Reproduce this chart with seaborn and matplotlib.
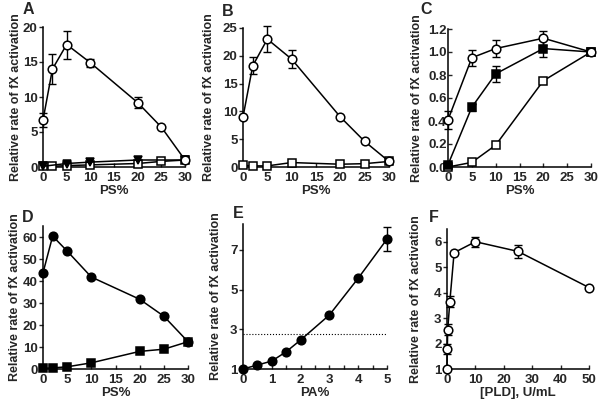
import matplotlib
matplotlib.use("Agg")
import matplotlib.pyplot as plt
import seaborn as sns

sns.set_theme(style="ticks")
plt.rcParams['font.family'] = ['Liberation Sans', 'DejaVu Sans']
plt.rcParams['font.weight'] = 'bold'
plt.rcParams['axes.labelweight'] = 'bold'

# panel A
ps_a = [0, 2, 5, 10, 20, 25, 30]
a_circle = [6.7, 14.0, 17.5, 14.9, 9.2, 5.7, 1.0]
a_circle_err = [1.0, 2.1, 2.0, 0.6, 0.8, 0.0, 0.0]
a_square = [0.1, 0.1, 0.2, 0.3, 0.5, 0.8, 1.0]
ps_a_tri = [0, 5, 10, 20, 30]
a_tri = [0.1, 0.5, 0.7, 1.0, 1.0]

# panel B
ps_b = [0, 2, 5, 10, 20, 25, 30]
b_circle = [9.0, 18.2, 23.0, 19.4, 9.0, 4.6, 1.0]
b_circle_err = [0.0, 1.5, 2.4, 1.6, 0.0, 0.0, 0.0]
b_square = [0.3, 0.2, 0.2, 0.8, 0.5, 0.6, 1.0]

# panel C
ps_c = [0, 5, 10, 20, 30]
c_circle = [0.41, 0.95, 1.03, 1.12, 1.0]
c_circle_err = [0.08, 0.07, 0.07, 0.06, 0.0]
c_fsquare = [0.02, 0.52, 0.81, 1.03, 1.0]
c_fsquare_err = [0.0, 0.03, 0.07, 0.07, 0.0]
c_square = [0.0, 0.04, 0.19, 0.75, 1.0]

# panel D
ps_d = [0, 2, 5, 10, 20, 25, 30]
d_circle = [43.7, 60.4, 53.6, 41.8, 31.7, 24.0, 12.4]
d_square = [0.3, 0.5, 1.0, 2.8, 8.0, 9.0, 12.4]

# panel E
pa_e = [0, 0.5, 1, 1.5, 2, 3, 4, 5]
e_circle = [1.0, 1.2, 1.4, 1.87, 2.46, 3.72, 5.57, 7.54]
e_circle_err = [0, 0, 0, 0, 0, 0, 0, 0.6]
e_threshold = 2.75

# panel F
pld_f = [0, 0.1, 0.25, 1, 2.5, 10, 25, 50]
f_circle = [1.0, 1.78, 2.55, 3.65, 5.57, 6.0, 5.62, 4.2]
f_circle_err = [0, 0.2, 0.2, 0.2, 0, 0.2, 0.25, 0]

ylabel = 'Relative rate of fX activation'
FS = 9.5


def series(ax, x, y, marker, filled, err=None):
    face = 'black' if filled else 'white'
    ms = 6.2 if marker == 'o' else 5.6
    if err is not None:
        ax.errorbar(x, y, yerr=err, fmt='none', ecolor='black', elinewidth=1.0,
                    capsize=2.8, capthick=1.0, zorder=2, clip_on=False)
    sns.lineplot(x=x, y=y, ax=ax, color='black', marker=marker, markersize=ms,
                 markerfacecolor=face, markeredgecolor='black', markeredgewidth=1.1,
                 linewidth=1.1, clip_on=False, zorder=3)


W, H = 602, 407
fig = plt.figure(figsize=(W / 100, H / 100), dpi=100)


def make_axes(left, right, top, bottom, label_x):
    ax = fig.add_axes([left / W, 1 - bottom / H, (right - left) / W, (bottom - top) / H])
    ax.set_ylabel(ylabel, fontsize=9)
    ax.yaxis.label.set_va('center')
    ax.yaxis.set_label_coords((label_x - left) / (right - left), 0.5)
    return ax


axA = make_axes(43, 185, 27, 167, 16)
axB = make_axes(243, 389, 28, 167, 209)
axC = make_axes(448, 591, 29, 167, 417)
axD = make_axes(43, 188, 226, 369, 15)
axE = make_axes(243, 387, 224, 369, 216)
axF = make_axes(447, 589, 229, 369, 416)

series(axA, ps_a, a_square, 's', False)
series(axA, ps_a_tri, a_tri, 'v', True)
series(axA, ps_a, a_circle, 'o', False, a_circle_err)
axA.set_ylim(0, 20)
axA.set_yticks([0, 5, 10, 15, 20])

series(axB, ps_b, b_square, 's', False)
series(axB, ps_b, b_circle, 'o', False, b_circle_err)
axB.set_ylim(0, 25)
axB.set_yticks([0, 5, 10, 15, 20, 25])

series(axC, ps_c, c_square, 's', False)
series(axC, ps_c, c_fsquare, 's', True, c_fsquare_err)
series(axC, ps_c, c_circle, 'o', False, c_circle_err)
axC.set_ylim(0, 1.2)
axC.set_yticks([0, 0.2, 0.4, 0.6, 0.8, 1.0, 1.2])
axC.set_yticklabels(['0.0', '0.2', '0.4', '0.6', '0.8', '1.0', '1.2'])

series(axD, ps_d, d_square, 's', True)
series(axD, ps_d, d_circle, 'o', True)
axD.set_ylim(0, 65)
axD.set_yticks([0, 10, 20, 30, 40, 50, 60])

axE.axhline(e_threshold, xmin=0, xmax=1, color='black', linestyle=':', linewidth=0.8)
series(axE, pa_e, e_circle, 'o', True, e_circle_err)
axE.set_ylim(1, 8.3)
axE.set_yticks([1, 3, 5, 7])
axE.set_xlim(0, 5)
axE.set_xticks([0, 1, 2, 3, 4, 5])
axE.set_xticks([0.5, 1.5, 2.5, 3.5, 4.5], minor=True)

series(axF, pld_f, f_circle, 'o', False, f_circle_err)
axF.set_ylim(1, 6.5)
axF.set_yticks([1, 2, 3, 4, 5, 6])
axF.set_xlim(0, 50)
axF.set_xticks([0, 10, 20, 30, 40, 50])

for ax in [axA, axB, axC, axD]:
    ax.set_xlim(0, 30)
    ax.set_xticks([0, 5, 10, 15, 20, 25, 30])
    ax.set_xlabel('PS%', fontsize=FS, labelpad=1)
axE.set_xlabel('PA%', fontsize=FS, labelpad=1)
axF.set_xlabel('[PLD], U/mL', fontsize=FS, labelpad=1)

for ax in [axA, axB, axC, axD, axE, axF]:
    sns.despine(ax=ax)
    ax.tick_params(axis='both', labelsize=FS, width=1.0, length=3, pad=1)
    ax.tick_params(axis='x', direction='in', pad=3.5)
    ax.tick_params(which='minor', direction='in', length=3, width=1.0)
    for s in ['left', 'bottom']:
        ax.spines[s].set_linewidth(1.1)
        ax.spines[s].set_color('black')
    ax.patch.set_alpha(0)
    for lab in ax.get_xticklabels() + ax.get_yticklabels():
        lab.set_fontweight('bold')
axC.tick_params(axis='y', direction='in')

letters = {'A': (28, 10), 'B': (228, 11), 'C': (426, 10), 'D': (28, 217), 'E': (238, 214), 'F': (434, 218)}
for letter, (px, py) in letters.items():
    fig.text(px / W, 1 - py / H, letter, fontsize=11.5, fontweight='bold', ha='center', va='center')

fig.savefig('out.png', dpi=100)
